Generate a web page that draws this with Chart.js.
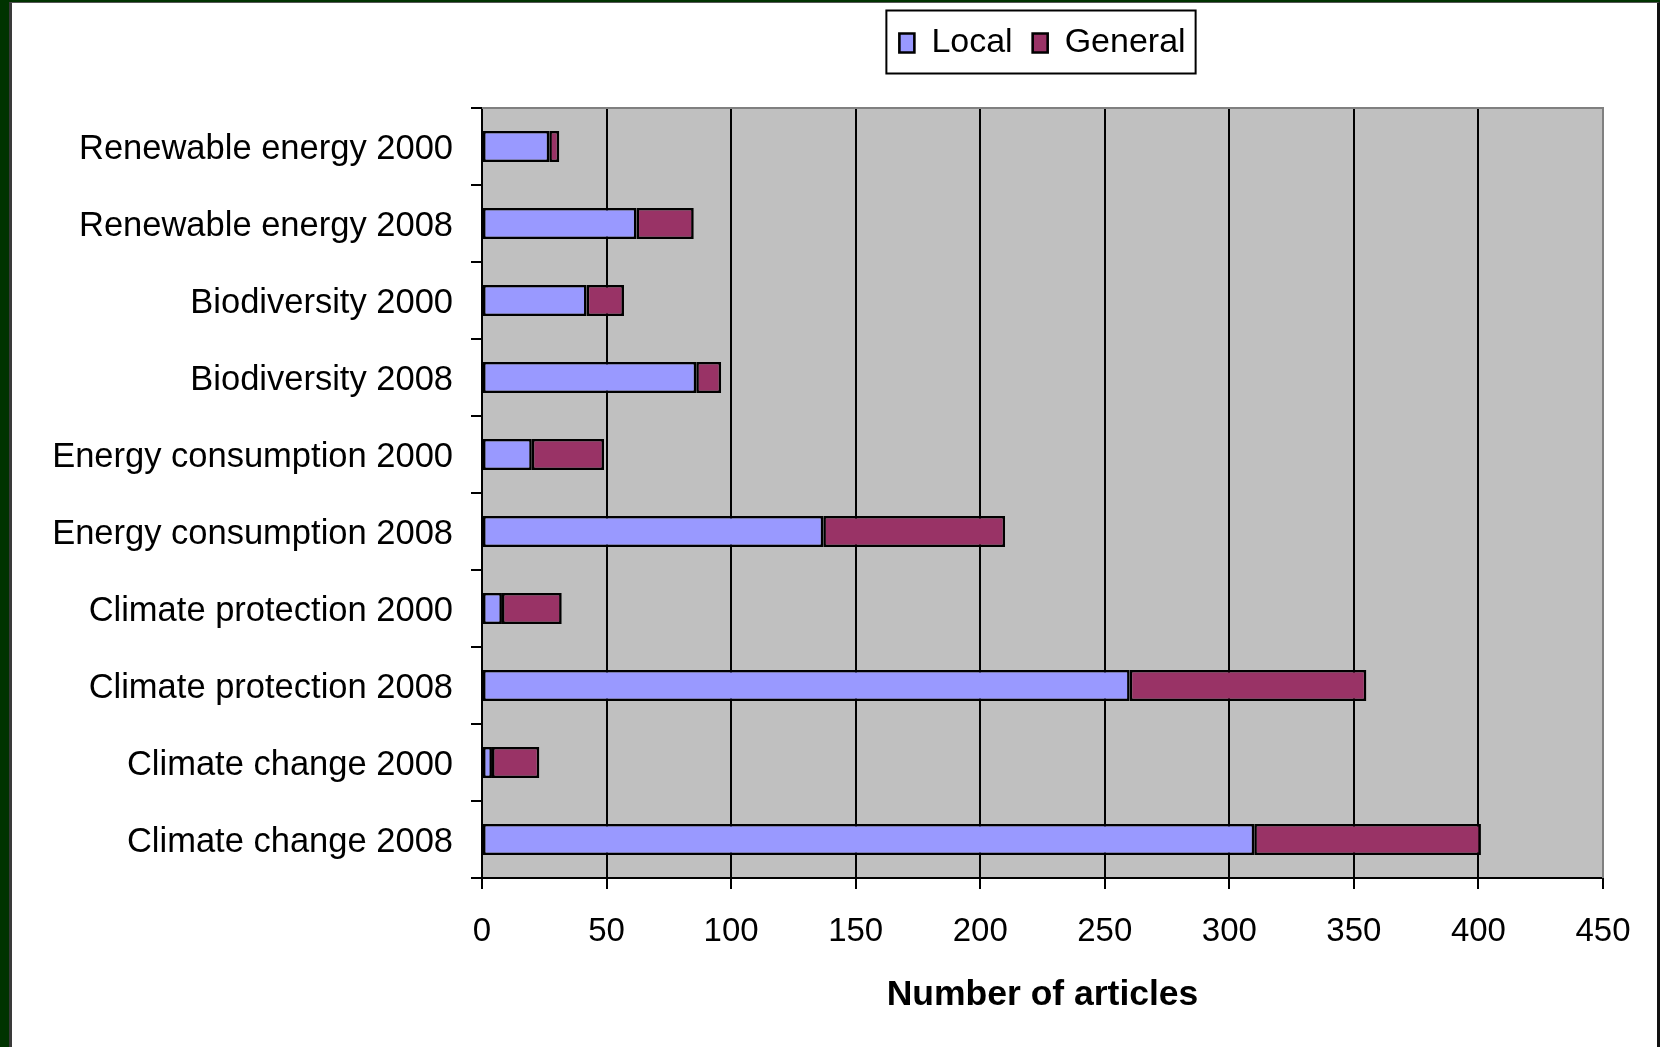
<!DOCTYPE html>
<html>
<head>
<meta charset="utf-8">
<script src="https://cdn.jsdelivr.net/npm/chart.js@4/dist/chart.umd.min.js"></script>
<style>
  html, body { margin: 0; padding: 0; background: #003300; }
  body { width: 1660px; height: 1047px; position: relative; overflow: hidden; }
  #frame {
    position: absolute; left: 9px; top: 2px;
    width: 1645px; height: 1044px;
    background: #ffffff;
    border-left: 3px solid #3a3a3a;
    border-right: 3px solid #111111;
    border-top: 1px solid #555555;
  }
  #chart { display: block; }
</style>
</head>
<body>
<div id="frame"><canvas id="chart" width="1645" height="1044"></canvas></div>
<script>
// Topics and years, listed top to bottom
const categories = [
  'Renewable energy 2000',
  'Renewable energy 2008',
  'Biodiversity 2000',
  'Biodiversity 2008',
  'Energy consumption 2000',
  'Energy consumption 2008',
  'Climate protection 2000',
  'Climate protection 2008',
  'Climate change 2000',
  'Climate change 2008'
];

// Number of articles per topic
const localArticles   = [27, 62, 42, 86, 20, 137, 8, 260, 4, 310];
const generalArticles = [4, 23, 15, 10, 29, 73, 24, 95, 19, 91];

const seriesNames = ['Local', 'General'];
const axisTitle = 'Number of articles';
const xMin = 0, xMax = 450, xStep = 50;

const FONT = 'Liberation Sans, Arial, Helvetica, sans-serif';

// Grey plot background with a grey frame on top and right
const plotBackground = {
  id: 'plotBackground',
  beforeDraw(chart) {
    const { ctx, chartArea: a } = chart;
    ctx.save();
    ctx.fillStyle = '#C0C0C0';
    ctx.fillRect(a.left, a.top, a.right - a.left, a.bottom - a.top);
    ctx.restore();
  },
  beforeDatasetsDraw(chart) {
    const { ctx, chartArea: a } = chart;
    ctx.save();
    ctx.strokeStyle = '#808080';
    ctx.lineWidth = 2;
    ctx.beginPath();
    ctx.moveTo(a.left, a.top);
    ctx.lineTo(a.right, a.top);
    ctx.lineTo(a.right, a.bottom);
    ctx.stroke();
    ctx.restore();
  }
};

// Extra room below the legend, and a box drawn around it
const legendFrame = {
  id: 'legendFrame',
  beforeInit(chart) {
    const fit = chart.legend.fit;
    chart.legend.fit = function () {
      fit.call(this);
      this.height += 38;
    };
  },
  afterDraw(chart) {
    const lg = chart.legend;
    if (!lg || !lg.legendHitBoxes || !lg.legendHitBoxes.length) return;
    const boxes = lg.legendHitBoxes;
    const first = boxes[0], last = boxes[boxes.length - 1];
    const cy = first.top + first.height / 2 - 1;
    const left = first.left - 13;
    const right = last.left + last.width + 10;
    const ctx = chart.ctx;
    ctx.save();
    ctx.strokeStyle = '#000000';
    ctx.lineWidth = 2;
    ctx.strokeRect(left, cy - 31.5, right - left, 63);
    ctx.restore();
  }
};

new Chart(document.getElementById('chart'), {
  type: 'bar',
  data: {
    labels: categories,
    datasets: [
      {
        label: seriesNames[0],
        data: localArticles,
        backgroundColor: '#9999FF',
        borderColor: '#000000',
        borderWidth: 2.6,
        borderSkipped: false
      },
      {
        label: seriesNames[1],
        data: generalArticles,
        backgroundColor: '#993366',
        borderColor: '#000000',
        borderWidth: 2.6,
        borderSkipped: false
      }
    ]
  },
  options: {
    indexAxis: 'y',
    responsive: false,
    animation: false,
    devicePixelRatio: 1,
    categoryPercentage: 1,
    barPercentage: 0.405,
    layout: { padding: { left: 0, right: 54, top: 3, bottom: 0 } },
    plugins: {
      tooltip: { enabled: false },
      legend: {
        position: 'top',
        fullSize: false,
        labels: {
          color: '#000000',
          font: { family: FONT, size: 34 },
          boxWidth: 15,
          boxHeight: 19,
          padding: 20
        }
      }
    },
    scales: {
      x: {
        stacked: true,
        min: xMin,
        max: xMax,
        afterFit(scale) { scale.height = 169; },
        ticks: {
          stepSize: xStep,
          color: '#000000',
          padding: 23,
          font: { family: FONT, size: 33 }
        },
        grid: {
          color: (c) => (c.tick && c.tick.value === xMax ? '#808080' : '#000000'),
          tickColor: '#000000',
          lineWidth: 2,
          tickLength: 11,
          drawOnChartArea: true
        },
        border: { display: true, color: '#000000', width: 2 },
        title: {
          display: true,
          text: axisTitle,
          color: '#000000',
          font: { family: FONT, size: 35.5, weight: 'bold' },
          padding: { top: 0, bottom: 30 }
        }
      },
      y: {
        stacked: true,
        afterFit(scale) { scale.width = 470; },
        ticks: {
          color: '#000000',
          padding: 18,
          labelOffset: 3,
          font: { family: FONT, size: 34.5 }
        },
        grid: {
          offset: true,
          drawOnChartArea: false,
          drawTicks: true,
          tickLength: 11,
          color: '#000000',
          lineWidth: 2
        },
        border: { display: true, color: '#000000', width: 2 }
      }
    }
  },
  plugins: [plotBackground, legendFrame]
});
</script>
</body>
</html>
